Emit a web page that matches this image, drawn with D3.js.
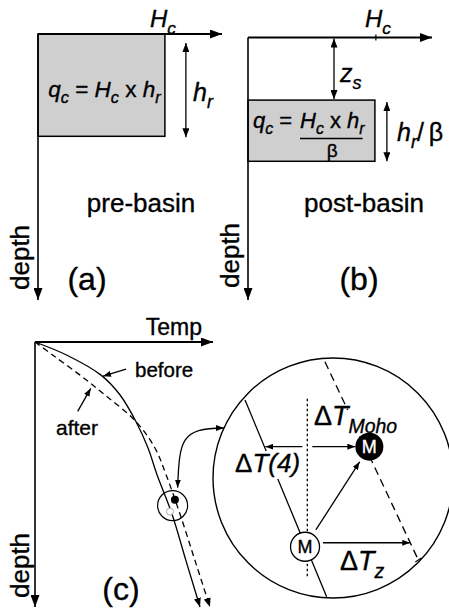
<!DOCTYPE html>
<html><head><meta charset="utf-8">
<script src="https://cdn.jsdelivr.net/npm/d3@7"></script>
<style>
html,body{margin:0;padding:0;background:#fff;}
svg{display:block;font-family:"Liberation Sans",Arial,Helvetica,sans-serif;}
svg text{stroke:#000;stroke-width:0.35px;}
svg text.inv{stroke:#fff;}
</style></head><body>
<svg id="fig" width="449" height="616"></svg>
<script>
// ---- Radiogenic heat panels (a) and (b) ----
const heatMax = 2.9;      // extent of heat-production axis
const depthMax = 26;      // extent of depth axis, km
const Hc = 2.0;           // crustal heat production
const hr = 10;            // radiogenic layer thickness, km
const beta = 1.65;        // stretching factor
const zs = 6.2;           // sediment thickness, km

// ---- Geotherm panel (c): depth (km) vs temperature (°C) ----
const geoDepth   = [0, 2, 5, 8, 12, 16, 20, 26, 33, 40];
const tempBefore = [0, 180, 371, 478, 567, 635, 685, 770, 848, 927];
const tempAfter  = [0, 101, 253, 393, 567, 674, 736, 815, 899, 983];
const tempMax = 1000, geoDepthMax = 40;
const mohoBefore = {temp: 758, depth: 25.6};
const mohoAfter  = {temp: 786, depth: 23.8};
const lensDepth = 24.7, lensTemp = 773;   // centre of the small lens on the geotherms

// ---- Magnified lens (local units, -1..1 across the lens) ----
const lensBeforeLine = [[-0.733, -0.65], [-0.053, 0.989]];
const lensAfterLine  = [[-0.067, -0.969], [0.711, 0.683]];
const lensMohoBefore = [-0.233, 0.573];
const lensMohoAfter  = [0.303, -0.261];
const lensRefX = -0.214, lensRefY = [-0.66, 0.84];

const svg = d3.select("#fig");
const defs = svg.append("defs");
function marker(id, w, h) {
  defs.append("marker").attr("id", id)
    .attr("viewBox", `0 0 ${w} ${h}`).attr("refX", w).attr("refY", h / 2)
    .attr("markerWidth", w).attr("markerHeight", h)
    .attr("markerUnits", "userSpaceOnUse").attr("orient", "auto-start-reverse")
    .append("path").attr("d", `M0,0L${w},${h / 2}L0,${h}Z`).attr("fill", "#000");
}
marker("axisHead", 12, 9);
marker("dimHead", 9, 7);
marker("smallHead", 8, 6);

function line(g, x1, y1, x2, y2, opts = {}) {
  const l = g.append("line").attr("x1", x1).attr("y1", y1).attr("x2", x2).attr("y2", y2)
    .attr("stroke", "#000").attr("stroke-width", opts.w || 1.3);
  if (opts.end) l.attr("marker-end", `url(#${opts.end})`);
  if (opts.start) l.attr("marker-start", `url(#${opts.start})`);
  if (opts.dash) l.attr("stroke-dasharray", opts.dash);
  return l;
}
// text made of upright / italic / subscript pieces
function rich(g, x, y, parts, size, anchor) {
  const t = g.append("text").attr("x", x).attr("y", y).attr("font-size", size)
    .attr("text-anchor", anchor || "start").attr("fill", "#000");
  let shift = 0;
  parts.forEach(p => {
    const ts = t.append("tspan").text(p.t);
    if (p.sub) ts.attr("font-size", size * 0.72);
    if (p.size) ts.attr("font-size", p.size);
    if (p.i) ts.attr("font-style", "italic");
    const target = p.sub ? size * 0.28 : 0;
    if (target !== shift) { ts.attr("dy", target - shift); shift = target; }
  });
  return t;
}
function depthLabel(g, x, y) {
  g.append("text").attr("transform", `translate(${x},${y}) rotate(-90)`)
    .attr("font-size", 26).text("depth");
}
const S = "\u00a0";

// ================= Panel (a) =================
{
  const g = svg.append("g");
  const x = d3.scaleLinear([0, heatMax], [38, 222]);
  const y = d3.scaleLinear([0, depthMax], [34, 300]);
  g.append("rect").attr("x", x(0)).attr("y", y(0))
    .attr("width", x(Hc) - x(0)).attr("height", y(hr) - y(0))
    .attr("fill", "#cfcfcf").attr("stroke", "#000").attr("stroke-width", 1.5);
  line(g, x(0), y(0), x(heatMax), y(0), {w: 2.2, end: "axisHead"});
  line(g, x(0), y(0), x(0), y(depthMax), {w: 1.6, end: "axisHead"});
  line(g, x(Hc) + 21, y(0) + 9, x(Hc) + 21, y(hr) + 1, {start: "dimHead", end: "dimHead"});
  rich(g, 150, 27, [{t: "H", i: true}, {t: "c", sub: true, i: true}], 24);
  rich(g, 193, 101, [{t: "h", i: true}, {t: "r", sub: true, i: true}], 25);
  rich(g, (x(0) + x(Hc)) / 2 + 3, 97, [
    {t: "q", i: true}, {t: "c", sub: true, i: true}, {t: S + "=" + S},
    {t: "H", i: true}, {t: "c", sub: true, i: true}, {t: S + "x" + S},
    {t: "h", i: true}, {t: "r", sub: true, i: true}], 22.5, "middle");
  g.append("text").attr("x", 141).attr("y", 212).attr("font-size", 26)
    .attr("text-anchor", "middle").text("pre-basin");
  depthLabel(g, 29, 290);
  g.append("text").attr("x", 87).attr("y", 290).attr("font-size", 32)
    .attr("text-anchor", "middle").text("(a)");
}

// ================= Panel (b) =================
{
  const g = svg.append("g");
  const x = d3.scaleLinear([0, heatMax], [248, 432]);
  const y = d3.scaleLinear([0, depthMax], [37.5, 300]);
  const top = y(zs), bot = y(zs + hr / beta);
  g.append("rect").attr("x", x(0)).attr("y", top)
    .attr("width", x(Hc) - x(0)).attr("height", bot - top)
    .attr("fill", "#cfcfcf").attr("stroke", "#000").attr("stroke-width", 1.5);
  line(g, x(0), y(0), x(heatMax), y(0), {w: 1.8, end: "axisHead"});
  line(g, x(0), y(0), x(0), y(depthMax), {w: 1.6, end: "axisHead"});
  line(g, x(Hc) + 1, y(0) - 3, x(Hc) + 1, y(0) + 3, {w: 1.2});
  line(g, 334, y(0) + 1, 334, top - 1, {start: "dimHead", end: "dimHead"});
  line(g, x(Hc) + 12, top + 2, x(Hc) + 12, bot, {start: "dimHead", end: "dimHead"});
  rich(g, 365, 27, [{t: "H", i: true}, {t: "c", sub: true, i: true}], 24);
  rich(g, 340, 82, [{t: "z", i: true}, {t: "s", sub: true, i: true}], 25);
  rich(g, 397, 141, [{t: "h", i: true}, {t: "r", sub: true, i: true}, {t: "/" + "\u2009β", size: 25}], 25);
  rich(g, 253, 128, [{t: "q", i: true}, {t: "c", sub: true, i: true}, {t: S + "="}], 22);
  const num = rich(g, 300, 128, [{t: "H", i: true}, {t: "c", sub: true, i: true}, {t: S + "x" + S},
    {t: "h", i: true}, {t: "r", sub: true, i: true}], 22);
  const w = num.node().getComputedTextLength();
  line(g, 300, 138.5, 300 + w - 2, 138.5, {w: 1.3});
  g.append("text").attr("x", 300 + w / 2).attr("y", 157).attr("font-size", 19)
    .attr("text-anchor", "middle").text("β");
  g.append("text").attr("x", 364).attr("y", 212).attr("font-size", 26)
    .attr("text-anchor", "middle").text("post-basin");
  depthLabel(g, 239, 288);
  g.append("text").attr("x", 359).attr("y", 290).attr("font-size", 32)
    .attr("text-anchor", "middle").text("(b)");
}

// ================= Panel (c) =================
{
  const g = svg.append("g");
  const x = d3.scaleLinear([0, tempMax], [35, 213]);
  const y = d3.scaleLinear([0, geoDepthMax], [342, 607]);
  line(g, x(0), y(0), x(tempMax), y(0), {w: 2.2, end: "axisHead"});
  line(g, x(0), y(0), x(0), y(geoDepthMax), {w: 1.6, end: "axisHead"});
  g.append("text").attr("x", 202).attr("y", 335).attr("font-size", 23)
    .attr("text-anchor", "end").text("Temp");
  depthLabel(g, 29, 598);
  g.append("text").attr("x", 121).attr("y", 600).attr("font-size", 32)
    .attr("text-anchor", "middle").text("(c)");

  const geo = d3.line().x(d => x(d[1])).y(d => y(d[0])).curve(d3.curveCatmullRom);
  g.append("path").attr("d", geo(d3.zip(geoDepth, tempBefore)))
    .attr("fill", "none").attr("stroke", "#000").attr("stroke-width", 1.3)
    .attr("marker-end", "url(#dimHead)");
  g.append("path").attr("d", geo(d3.zip(geoDepth, tempAfter)))
    .attr("fill", "none").attr("stroke", "#000").attr("stroke-width", 1.3)
    .attr("stroke-dasharray", "6,4").attr("marker-end", "url(#dimHead)");

  // pointers to the two geotherms
  const bTip = [x(tempBefore[2]) + 2, y(geoDepth[2]) + 1];
  line(g, bTip[0] + 23, bTip[1] - 7, bTip[0], bTip[1], {w: 1.3, end: "smallHead"});
  g.append("text").attr("x", 135).attr("y", 377).attr("font-size", 20.5).text("before");
  const aTip = [x(313), y(7)];
  line(g, aTip[0] - 13, aTip[1] + 23, aTip[0], aTip[1], {w: 1.3, end: "smallHead"});
  g.append("text").attr("x", 56).attr("y", 435).attr("font-size", 21).text("after");

  // small lens on the geotherms
  const lc = [x(lensTemp), y(lensDepth)];
  g.append("circle").attr("cx", lc[0]).attr("cy", lc[1]).attr("r", 15)
    .attr("fill", "none").attr("stroke", "#000").attr("stroke-width", 1.2);
  g.append("circle").attr("cx", x(mohoAfter.temp)).attr("cy", y(mohoAfter.depth)).attr("r", 4)
    .attr("fill", "#000");
  g.append("circle").attr("cx", x(mohoBefore.temp)).attr("cy", y(mohoBefore.depth)).attr("r", 3.5)
    .attr("fill", "#fff").attr("stroke", "#999").attr("stroke-width", 0.8);

  // magnified lens
  const cx = 333, cy = 478, R = 120;
  const lx = d3.scaleLinear([-1, 1], [cx - R, cx + R]);
  const ly = d3.scaleLinear([-1, 1], [cy - R, cy + R]);
  g.append("circle").attr("cx", cx).attr("cy", cy).attr("r", R)
    .attr("fill", "#fff").attr("stroke", "#000").attr("stroke-width", 1.4);

  // connector between the lenses
  const p = d3.path();
  p.moveTo(lc[0] + 5, lc[1] - 18);
  p.bezierCurveTo(lc[0] + 7, 440, lc[0] + 8, 428, 224, 428);
  g.append("path").attr("d", p.toString()).attr("fill", "none").attr("stroke", "#000")
    .attr("stroke-width", 1.3).attr("marker-start", "url(#smallHead)").attr("marker-end", "url(#smallHead)");

  const seg = (pts) => pts.map(q => [lx(q[0]), ly(q[1])]);
  const [b0, b1] = seg(lensBeforeLine), [a0, a1] = seg(lensAfterLine);
  line(g, b0[0], b0[1], b1[0], b1[1], {w: 1.3});
  line(g, a0[0], a0[1], a1[0], a1[1], {w: 1.3, dash: "8,5"});
  line(g, a1[0] - 3, a1[1] + 2, a1[0] + 3, a1[1] - 2, {w: 1.2});
  line(g, lx(lensRefX), ly(lensRefY[0]), lx(lensRefX), ly(lensRefY[1]), {w: 1.3, dash: "2.5,2.5"});

  const wm = [lx(lensMohoBefore[0]), ly(lensMohoBefore[1])];
  const bm = [lx(lensMohoAfter[0]), ly(lensMohoAfter[1])];
  const xOn = (s0, s1, yy) => s0[0] + (s1[0] - s0[0]) * (yy - s0[1]) / (s1[1] - s0[1]);

  // label backgrounds break the lines behind them
  g.append("rect").attr("x", 238).attr("y", 451).attr("width", 62).attr("height", 28).attr("fill", "#fff");
  g.append("rect").attr("x", 315).attr("y", 410).attr("width", 90).attr("height", 26).attr("fill", "#fff");

  const refX = lx(lensRefX), yy = bm[1];
  line(g, refX - 5, yy, xOn(b0, b1, yy) + 1, yy, {w: 1.3, end: "smallHead"});
  line(g, refX + 5, yy, bm[0] - 14, yy, {w: 1.3, end: "smallHead"});
  const ang = Math.atan2(bm[1] - wm[1], bm[0] - wm[0]);
  line(g, wm[0] + 20 * Math.cos(ang), wm[1] + 20 * Math.sin(ang),
    bm[0] - 18 * Math.cos(ang), bm[1] - 18 * Math.sin(ang), {w: 1.3, end: "smallHead"});
  const yz = wm[1] - 4;
  line(g, wm[0] + 18, yz, xOn(a0, a1, yz), yz, {w: 1.3, end: "smallHead"});

  g.append("circle").attr("cx", wm[0]).attr("cy", wm[1]).attr("r", 14.5)
    .attr("fill", "#fff").attr("stroke", "#000").attr("stroke-width", 1.3);
  g.append("text").attr("x", wm[0]).attr("y", wm[1] + 6.5).attr("font-size", 18)
    .attr("text-anchor", "middle").text("M");
  g.append("circle").attr("cx", bm[0]).attr("cy", bm[1]).attr("r", 14).attr("fill", "#000");
  g.append("text").attr("class", "inv").attr("x", bm[0]).attr("y", bm[1] + 6.5).attr("font-size", 18)
    .attr("text-anchor", "middle").attr("fill", "#fff").text("M");

  rich(g, 314, 425, [{t: "Δ"}, {t: "T", i: true}, {t: "Moho", sub: true, i: true}], 27);
  rich(g, 235, 472, [{t: "Δ"}, {t: "T(4)", i: true}], 26);
  rich(g, 340, 570, [{t: "Δ"}, {t: "T", i: true}, {t: "z", sub: true, i: true}], 27);
}
</script>
</body></html>
